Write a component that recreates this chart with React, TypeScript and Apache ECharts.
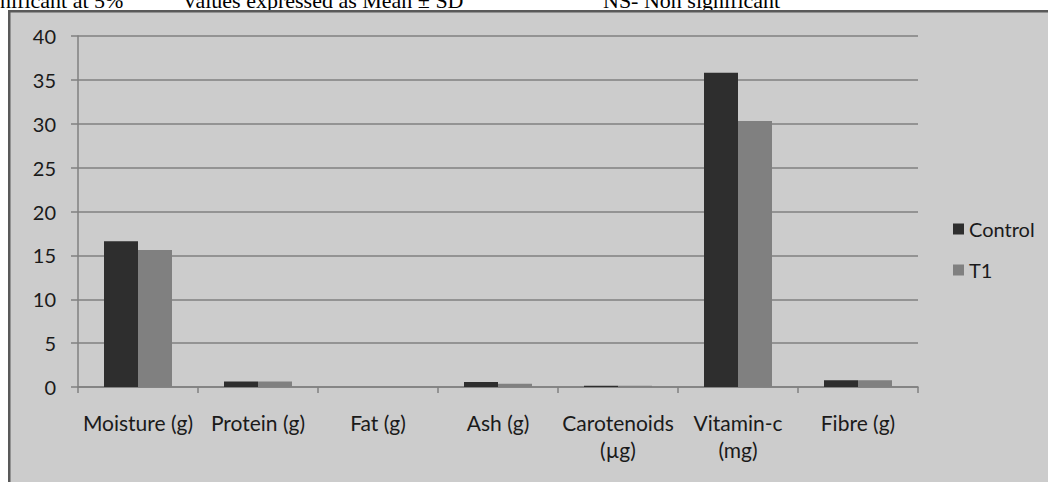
import React, { useEffect, useRef } from "react";
import * as echarts from "echarts";

const categories = [
  "Moisture (g)",
  "Protein (g)",
  "Fat (g)",
  "Ash (g)",
  "Carotenoids\n(µg)",
  "Vitamin-c\n(mg)",
  "Fibre (g)",
];
const controlValues = [16.6, 0.64, 0, 0.57, 0.15, 35.8, 0.76];
const t1Values = [15.6, 0.64, 0, 0.38, 0.13, 30.3, 0.76];
const seriesNames = ["Control", "T1"];
const headerTexts = ["nificant at 5%", "Values expressed as Mean ± SD", "NS- Non significant"];

const FONT = "Lato";

export default function App() {
  const ref = useRef<HTMLDivElement>(null);
  useEffect(() => {
    if (!ref.current) return;
    const chart = echarts.init(ref.current, undefined, { renderer: "svg" });
    const headerStyle = (text: string) => ({
      text,
      font: "22px 'Liberation Serif'",
      fill: "#000",
      verticalAlign: "bottom",
    });
    chart.setOption({
      animation: false,
      backgroundColor: "#ffffff",
      graphic: [
        {
          type: "rect",
          z: -10,
          silent: true,
          shape: { x: 9.25, y: 11.25, width: 1200, height: 700 },
          style: { fill: "#cccccc", stroke: "#595959", lineWidth: 2.5 },
        },
        { type: "text", x: 0, y: 11, z: -20, style: headerStyle(headerTexts[0]) },
        { type: "text", x: 182, y: 11, z: -20, style: headerStyle(headerTexts[1]) },
        { type: "text", x: 603, y: 11, z: -20, style: headerStyle(headerTexts[2]) },
      ],
      legend: {
        orient: "vertical",
        left: 953,
        top: 219,
        padding: 0,
        itemWidth: 11,
        itemHeight: 11,
        itemGap: 21,
        icon: "rect",
        data: seriesNames,
        textStyle: { fontFamily: FONT, fontSize: 20, color: "#1a1a1a" },
      },
      grid: { left: 78, top: 36, width: 840, height: 351, containLabel: false },
      xAxis: {
        type: "category",
        data: categories,
        axisLine: { lineStyle: { color: "#808080", width: 1.5 } },
        axisTick: { show: true, length: 6, interval: 0, lineStyle: { color: "#808080", width: 1.5 } },
        axisLabel: {
          interval: 0,
          margin: 22,
          fontFamily: FONT,
          fontSize: 21,
          lineHeight: 27,
          color: "#1a1a1a",
        },
      },
      yAxis: {
        type: "value",
        min: 0,
        max: 40,
        interval: 5,
        axisLine: { show: true, lineStyle: { color: "#808080", width: 1.5 } },
        axisTick: { show: true, length: 7, lineStyle: { color: "#808080", width: 1.5 } },
        splitLine: { lineStyle: { color: "#808080", width: 1.5 } },
        axisLabel: { margin: 22, fontFamily: FONT, fontSize: 20, color: "#1a1a1a" },
      },
      series: [
        {
          name: seriesNames[0],
          type: "bar",
          data: controlValues,
          barWidth: 34,
          barGap: "0%",
          itemStyle: { color: "#2e2e2e" },
        },
        {
          name: seriesNames[1],
          type: "bar",
          data: t1Values,
          barWidth: 34,
          barGap: "0%",
          itemStyle: { color: "#808080" },
        },
      ],
    });
    return () => chart.dispose();
  }, []);
  return (
    <div
      ref={ref}
      style={{ position: "fixed", left: 0, top: 0, width: 1048, height: 482 }}
    />
  );
}
